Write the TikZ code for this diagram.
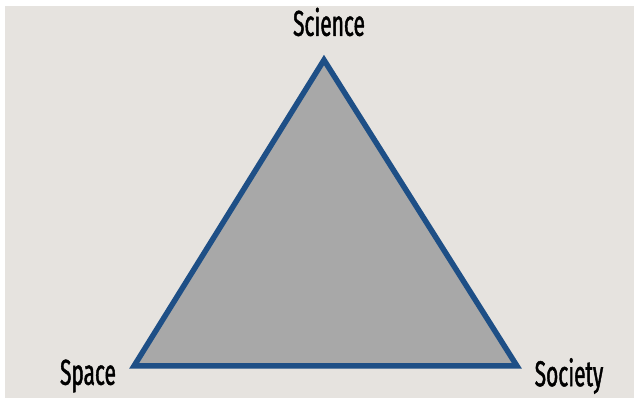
\documentclass[tikz,border=0pt]{standalone}
\usepackage{fontspec}
\setmainfont{Fira Sans}
\usepackage{tikz}
\usetikzlibrary{positioning}
\definecolor{cpaper}{RGB}{230,227,223}
\definecolor{cedge}{RGB}{30,79,134}
\definecolor{cface}{RGB}{168,168,168}

\begin{document}
\begin{tikzpicture}[
  x=1pt,y=-1pt,
  tri/.style={draw=cedge,fill=cface,line width=5.5pt,line join=miter},
  lbl/.style={font=\fontsize{36}{40}\selectfont\addfontfeatures{FakeStretch=0.58,FakeBold=1.2},inner sep=0},
]
\useasboundingbox (0,0) rectangle (638,403);
\fill[white] (0,0) rectangle (638,403);
\fill[cpaper] (5,6) rectangle (634,398);

% corners
\coordinate (top) at (324,60);
\coordinate (left) at (134,366);
\coordinate (right) at (517,366);
\draw[tri] (top) -- (left) -- (right) -- cycle;

% labels
\node[lbl] (science) at (329,22) {Science};
\node[lbl] (space) at (88,376) {Space};
\node[lbl] (society) at (569,376) {Society};
\end{tikzpicture}
\end{document}
